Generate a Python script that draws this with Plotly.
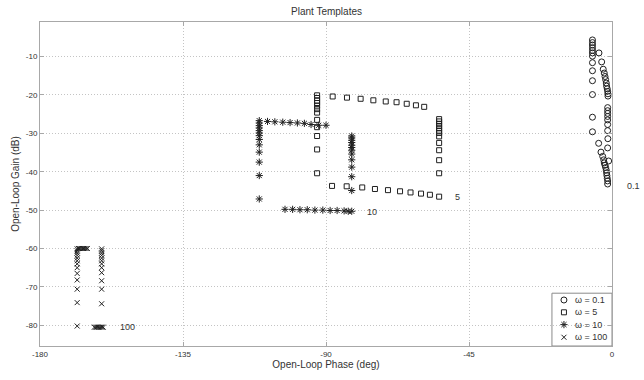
import plotly.graph_objects as go

# Template points: phase (deg) and gain (dB) per frequency
w01_phase = [-6.15, -6.15, -6.15, -6.15, -6.15, -6.15, -6.15, -6.15, -6.15, -6.15, -6.15, -6.15, -6.15,
             -4.1, -3.25, -2.76, -2.44, -2.2, -2.0, -1.8, -1.7, -1.5, -1.37, -1.27, -1.27,
             -1.37, -1.37, -1.37, -1.37, -1.37, -1.37, -1.37, -1.3, -1.37,
             -4.2, -3.47, -2.93, -2.6, -1.06, -2.44, -2.2, -2.0, -1.8, -1.7, -1.6, -1.5, -1.37, -1.37]
w01_gain = [-5.67, -6.36, -7.0, -7.7, -8.4, -9.06, -9.9, -11.6, -13.7, -16.3, -19.9, -25.8, -29.6,
            -9.06, -11.4, -13.3, -14.3, -15.2, -16.0, -16.9, -17.7, -18.4, -19.1, -19.7, -20.3,
            -23.3, -24.1, -24.8, -25.6, -26.5, -27.7, -29.3, -31.4, -33.8,
            -32.6, -34.9, -36.0, -36.9, -37.2, -37.7, -38.3, -38.9, -39.6, -40.3, -41.0, -41.7, -42.4, -43.2]

w5_phase = [-92.8] * 12 + [-87.9, -83.4, -79.1, -75.1, -71.2, -67.8, -64.6, -61.7, -59.1] \
    + [-54.4] * 12 + [-88.1, -83.5, -78.6, -74.6, -70.5, -66.7, -63.4, -60.1, -57.3, -54.4]
w5_gain = [-20.1, -20.8, -21.5, -22.1, -22.8, -23.7, -24.6, -26.5, -28.4, -30.7, -34.2, -40.4,
           -20.4, -20.7, -21.0, -21.4, -21.7, -21.9, -22.3, -22.7, -23.1,
           -26.3, -26.9, -27.5, -28.1, -28.7, -29.3, -29.9, -30.8, -32.5, -34.4, -37.0, -40.4,
           -43.7, -43.8, -44.1, -44.5, -44.8, -45.1, -45.4, -45.7, -46.0, -46.5]

w10_phase = [-111.0] * 13 + [-108.4, -106.1, -103.6, -101.3, -99.0, -96.8, -94.7, -92.3, -90.0] \
    + [-81.9] * 12 + [-102.9, -100.5, -98.2, -95.9, -93.5, -91.0, -88.7, -86.5, -84.3, -83.0, -81.9]
w10_gain = [-26.7, -27.3, -28.0, -28.6, -29.3, -29.9, -30.6, -31.6, -33.0, -34.9, -37.5, -41.0, -47.1,
            -26.9, -27.0, -27.1, -27.2, -27.3, -27.4, -27.7, -27.9, -27.9,
            -30.7, -31.2, -31.8, -32.4, -33.1, -33.7, -34.4, -35.4, -36.9, -38.8, -41.3, -44.9,
            -49.8, -49.8, -49.9, -49.9, -50.0, -50.0, -50.1, -50.1, -50.2, -50.3, -50.3]

w100_phase = [-168.3] * 13 + [-167.9, -167.5, -167.1, -166.7, -166.3, -165.9, -165.5, -165.1] \
    + [-160.6] * 12 + [-162.9, -162.5, -162.1, -161.7, -161.3, -160.9, -160.5, -160.1]
w100_gain = [-60.1, -60.6, -61.2, -61.8, -62.5, -63.2, -64.0, -65.0, -66.5, -68.2, -70.6, -74.1, -80.2,
             -60.0, -60.0, -60.0, -60.0, -60.0, -60.0, -60.0, -60.0,
             -60.1, -60.6, -61.2, -61.8, -62.5, -63.2, -64.0, -65.0, -66.3, -68.4, -70.6, -74.4,
             -80.5, -80.5, -80.5, -80.5, -80.5, -80.5, -80.5, -80.5]

# Frequency labels placed beside each template
label_text = ["0.1", "5", "10", "100"]
label_phase = [4.0, -49.9, -77.6, -155.3]
label_gain = [-43.8, -46.6, -50.6, -80.5]

x_ticks = [-180, -135, -90, -45, 0]
y_ticks = [-80, -70, -60, -50, -40, -30, -20, -10]
x_range = [-180, 0]
y_range = [-85.4, -1.0]

series = [
    ("\u03c9 = 0.1", w01_phase, w01_gain, "circle-open", 6),
    ("\u03c9 = 5", w5_phase, w5_gain, "square-open", 5),
    ("\u03c9 = 10", w10_phase, w10_gain, "asterisk-open", 6),
    ("\u03c9 = 100", w100_phase, w100_gain, "x-thin-open", 5),
]

INK = "#202020"

fig = go.Figure()
for name, xs, ys, sym, sz in series:
    fig.add_trace(go.Scatter(
        x=xs, y=ys, mode="markers", name=name, showlegend=False,
        marker=dict(symbol=sym, size=sz, color=INK, line=dict(color=INK, width=1)),
        cliponaxis=False,
    ))

# Compact boxed legend in the lower-right corner (axes-fraction layout)
leg_left, leg_right, leg_top, leg_bottom = 0.895, 1.0, 0.163, 0.0
row_y = [0.142, 0.104, 0.066, 0.027]
key_x, text_x = 0.916, 0.932
fig.add_shape(type="rect", xref="paper", yref="paper",
              x0=leg_left, x1=leg_right, y0=leg_bottom, y1=leg_top,
              line=dict(color="#8a8a8a", width=1), fillcolor="white", layer="between")
for (name, _, _, sym, sz), ry in zip(series, row_y):
    fig.add_trace(go.Scatter(
        x=[key_x], y=[ry], xaxis="x2", yaxis="y2", mode="markers", showlegend=False,
        hoverinfo="skip",
        marker=dict(symbol=sym, size=sz, color=INK, line=dict(color=INK, width=1)),
    ))
    fig.add_annotation(xref="paper", yref="paper", x=text_x, y=ry, text=name,
                       showarrow=False, xanchor="left", yanchor="middle",
                       font=dict(size=9, color="#333333"))

# Labels; the one past the right edge is positioned in paper units
for t, px, gy in zip(label_text, label_phase, label_gain):
    if px > x_range[1]:
        fig.add_annotation(xref="paper", x=(px - x_range[0]) / (x_range[1] - x_range[0]),
                           y=gy, text=t, showarrow=False, xanchor="left", yanchor="middle",
                           font=dict(size=9, color="#333333"))
    else:
        fig.add_annotation(x=px, y=gy, text=t, showarrow=False, xanchor="left",
                           yanchor="middle", font=dict(size=9, color="#333333"))

fig.add_annotation(xref="paper", yref="paper", x=0.5, y=1, yshift=11,
                   text="Plant Templates", showarrow=False, yanchor="middle",
                   font=dict(size=10, color="#333333"))

axis_common = dict(
    showline=True, mirror="ticks", linecolor="#a8a8a8", linewidth=1,
    ticks="inside", ticklen=4, tickcolor="#a8a8a8",
    showgrid=True, gridcolor="#c4c4c4", griddash="1px,2px", gridwidth=1,
    zeroline=False, tickfont=dict(size=8, color="#333333"),
)

fig.update_layout(
    width=644, height=380,
    margin=dict(l=40, r=32, t=22, b=27),
    paper_bgcolor="white", plot_bgcolor="white",
    font=dict(family="Liberation Sans, Arial, sans-serif", color="#333333"),
    showlegend=False,
    xaxis=dict(range=x_range, tickvals=x_ticks, ticktext=[str(v) for v in x_ticks],
               title=dict(text="Open-Loop Phase (deg)", font=dict(size=10), standoff=2),
               **axis_common),
    yaxis=dict(range=y_range, tickvals=y_ticks, ticktext=[str(v) for v in y_ticks],
               title=dict(text="Open-Loop Gain (dB)", font=dict(size=10), standoff=4),
               **axis_common),
    xaxis2=dict(overlaying="x", range=[0, 1], visible=False, fixedrange=True),
    yaxis2=dict(overlaying="y", range=[0, 1], visible=False, fixedrange=True),
)

fig.write_html("out.html")
